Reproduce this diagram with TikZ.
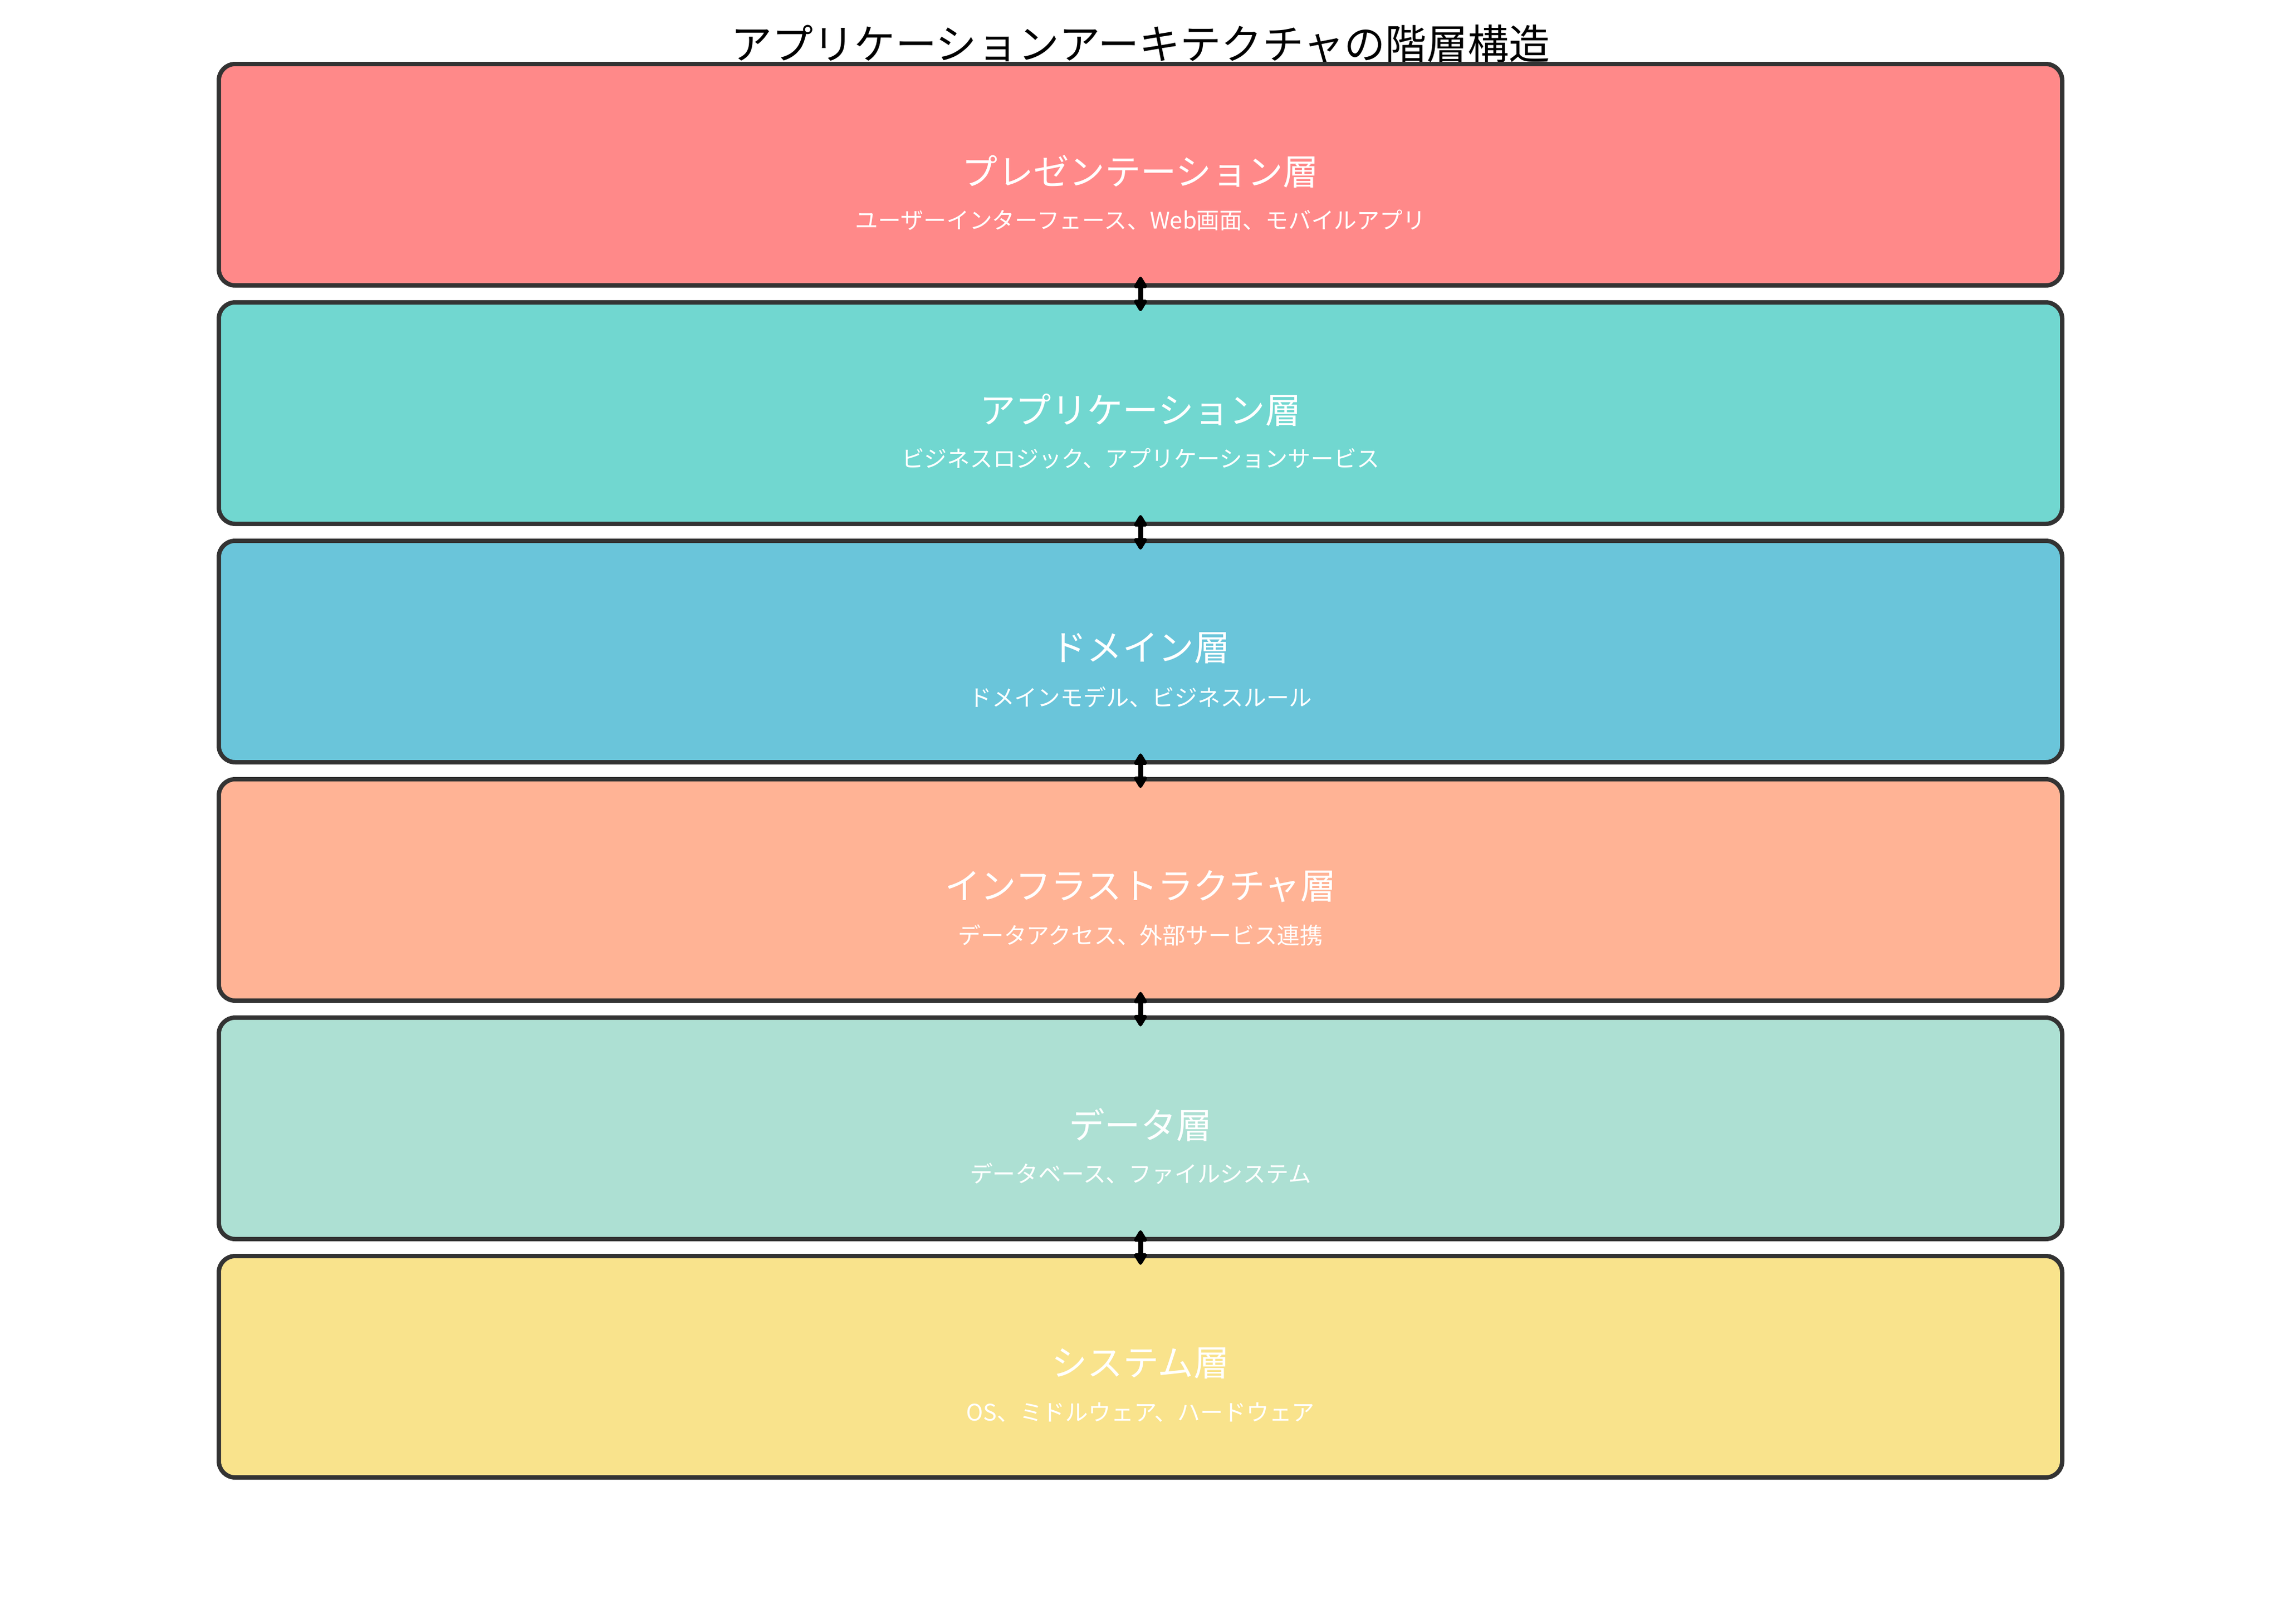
\documentclass[tikz,border=0pt]{standalone}
\usepackage{fontspec}
\setmainfont{Noto Sans CJK JP}
\usepackage{tikz}
\usetikzlibrary{arrows.meta}
\usetikzlibrary{positioning}
\definecolor{presen}{HTML}{FF8989}
\definecolor{appl}{HTML}{71D7D0}
\definecolor{domain}{HTML}{6AC5DA}
\definecolor{infra}{HTML}{FFB395}
\definecolor{datal}{HTML}{ADE0D3}
\definecolor{systm}{HTML}{F9E38C}
\definecolor{edge}{HTML}{333333}

\begin{document}
\begin{tikzpicture}[
  layer/.style={
    rectangle,
    rounded corners=0.3cm,
    draw=edge,
    line width=0.08cm,
    fill=#1,
    minimum width=33.7cm,
    minimum height=4.05cm},
  lname/.style={
    text=white,
    font=\fontsize{18.6pt}{22pt}\selectfont},
  ldesc/.style={
    text=white,
    font=\fontsize{11.9pt}{14pt}\selectfont},
  link/.style={
    {Triangle[length=0.24cm,width=0.27cm,round]}-{Triangle[length=0.24cm,width=0.27cm,round]},
    line width=0.09cm,
    shorten <=-0.2cm, shorten >=-0.2cm},
]
  \useasboundingbox (0,0) rectangle (41.70,-29.70);

  \def\stepsize{4.36}%
  \def\lvlbase{-3.195}%
  \def\midx{20.85}%

  % title
  \node[font=\fontsize{21.4pt}{25pt}\selectfont] (title) at (\midx, -0.80)
      {アプリケーションアーキテクチャの階層構造};

  % layers
  \foreach \lname/\ldesc/\col [count=\step] in {
      プレゼンテーション層/{ユーザーインターフェース、Web画面、モバイルアプリ}/presen,
      アプリケーション層/{ビジネスロジック、アプリケーションサービス}/appl,
      ドメイン層/{ドメインモデル、ビジネスルール}/domain,
      インフラストラクチャ層/{データアクセス、外部サービス連携}/infra,
      データ層/{データベース、ファイルシステム}/datal,
      システム層/{OS、ミドルウェア、ハードウェア}/systm} {
    \node[layer=\col] (layer\step)
        at (\midx, \lvlbase - \stepsize*\step + \stepsize) {};
    \node[lname] (name\step)
        at (\midx, \lvlbase - \stepsize*\step + \stepsize + 0.06) {\lname};
    \node[ldesc] (desc\step)
        at (\midx, \lvlbase - \stepsize*\step + \stepsize - 0.83) {\ldesc};
  }

  \foreach \start [count=\stop from 2] in {1,...,5} {
    \draw[link] (layer\start.south) -- (layer\stop.north);
  }

\end{tikzpicture}
\end{document}
